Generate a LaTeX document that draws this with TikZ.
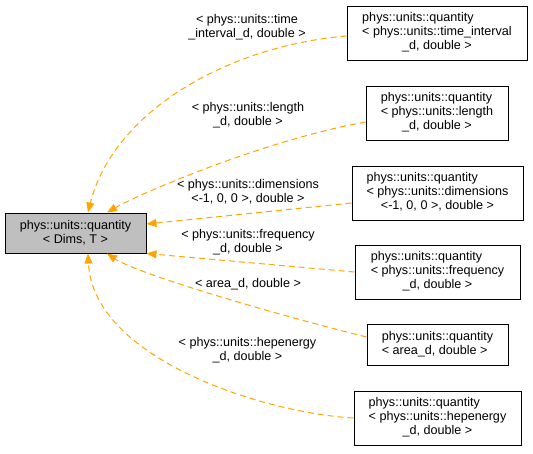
\documentclass[tikz,border=0pt]{standalone}
\usepackage{fontspec}
\setmainfont{Liberation Sans}
\usetikzlibrary{arrows.meta}
\definecolor{inhorange}{HTML}{FFA500}

\newcommand{\qtext}[3]{\begin{tabular}{@{}l@{}}#1\\#2\\\multicolumn{1}{@{}c@{}}{#3}\end{tabular}}

\begin{document}
\begin{tikzpicture}[x=1pt,y=-1pt,
  every node/.style={font=\fontsize{12.6}{14}\selectfont},
  box/.style={draw,line width=1pt,inner sep=0pt,align=center},
  lbl/.style={align=center},
  inh/.style={draw=inhorange,line width=1pt,dash pattern=on 6pt off 4pt,
    -{Triangle[length=10pt,width=8pt]}}]
\useasboundingbox (0,0) rectangle (533,453);

% base class
\node[box,fill=black!25,minimum width=141pt,minimum height=40pt] (base) at (75.5,233)
  {phys::units::quantity\\< Dims, T >};

% derived classes
\node[box,minimum width=180pt,minimum height=54pt] (qtime) at (437,33)
  {\qtext{phys::units::quantity}{< phys::units::time\_interval}{\_d, double >}};
\node[box,minimum width=142pt,minimum height=54pt] (qlength) at (437,113)
  {\qtext{phys::units::quantity}{< phys::units::length}{\_d, double >}};
\node[box,minimum width=171pt,minimum height=54pt] (qdim) at (437.5,193)
  {\qtext{phys::units::quantity}{< phys::units::dimensions}{<-1, 0, 0 >, double >}};
\node[box,minimum width=165pt,minimum height=54pt] (qfreq) at (437.5,272)
  {\qtext{phys::units::quantity}{< phys::units::frequency}{\_d, double >}};
\node[box,minimum width=141pt,minimum height=41pt] (qarea) at (437.5,344.5)
  {\begin{tabular}{@{}l@{}}phys::units::quantity\\< area\_d, double >\end{tabular}};
\node[box,minimum width=167pt,minimum height=54pt] (qhep) at (437.5,418)
  {\qtext{phys::units::quantity}{< phys::units::hepenergy}{\_d, double >}};

% edge labels
\node[lbl] (ltime) at (247,27) {< phys::units::time\\\_interval\_d, double >};
\node[lbl] (llength) at (248,115) {< phys::units::length\\\_d, double >};
\node[lbl] (ldim) at (248,192) {< phys::units::dimensions\\<-1, 0, 0 >, double >};
\node[lbl] (lfreq) at (248,242) {< phys::units::frequency\\\_d, double >};
\node[lbl] (larea) at (248,284) {< area\_d, double >};
\node[lbl] (lhep) at (247.5,350) {< phys::units::hepenergy\\\_d, double >};

% inheritance
\draw[inh] ([yshift=-3pt]qtime.west) .. controls +(-120,10) and +(25,-100) .. ([xshift=12.5pt]base.north);
\draw[inh] ([yshift=-9pt]qlength.west) .. controls +(-100,18) and +(35,-20) .. ([xshift=31.5pt]base.north);
\draw[inh] ([yshift=-10pt]qdim.west) -- ([yshift=9pt]base.east);
\draw[inh] (qfreq.west) -- (base.south east);
\draw[inh] ([yshift=7.5pt]qarea.west) .. controls +(-100,-25) and +(30,20) .. ([xshift=31.5pt]base.south);
\draw[inh] (qhep.west) .. controls +(-90,-5) and +(5,105) .. ([xshift=12.5pt]base.south);

\end{tikzpicture}
\end{document}
